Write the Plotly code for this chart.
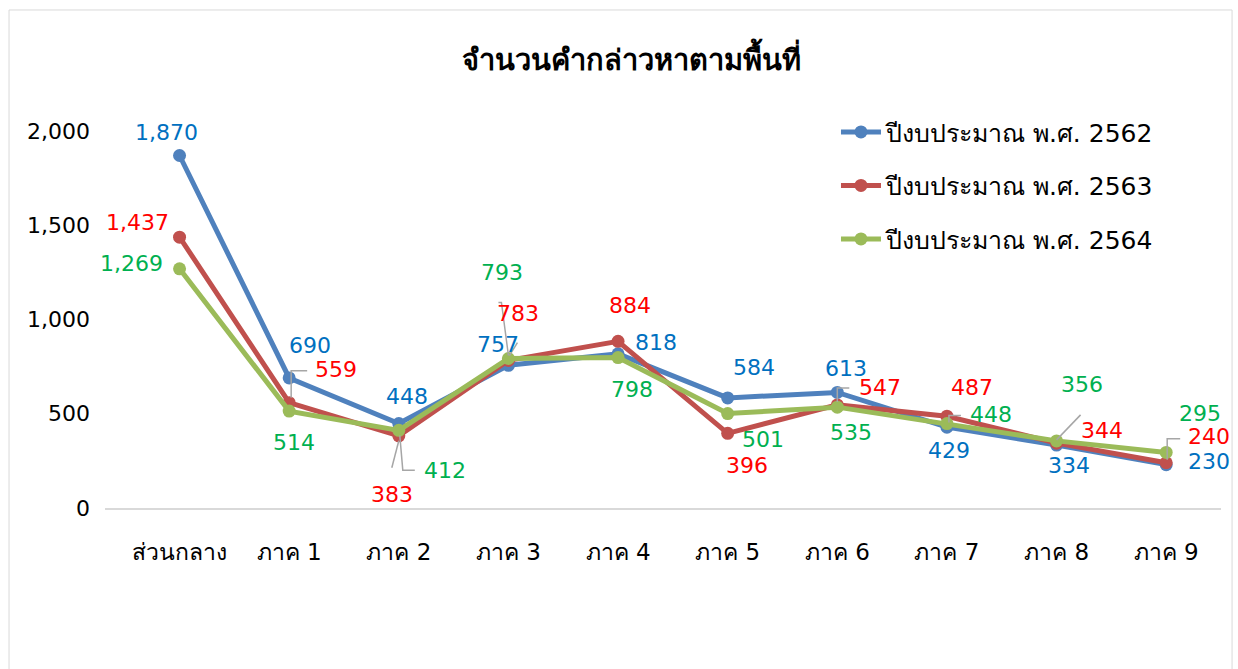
import plotly.graph_objects as go

categories = ["ส่วนกลาง", "ภาค 1", "ภาค 2", "ภาค 3", "ภาค 4", "ภาค 5", "ภาค 6", "ภาค 7", "ภาค 8", "ภาค 9"]
series_names = ["ปีงบประมาณ พ.ศ. 2562", "ปีงบประมาณ พ.ศ. 2563", "ปีงบประมาณ พ.ศ. 2564"]
values_2562 = [1870, 690, 448, 757, 818, 584, 613, 429, 334, 230]
values_2563 = [1437, 559, 383, 783, 884, 396, 547, 487, 344, 240]
values_2564 = [1269, 514, 412, 793, 798, 501, 535, 448, 356, 295]
title_text = "จำนวนคำกล่าวหาตามพื้นที่"
y_ticks = [0, 500, 1000, 1500, 2000]

line_colors = ["#4F81BD", "#C0504D", "#9BBB59"]
label_colors = ["#0070C0", "#FF0000", "#00B050"]
all_values = [values_2562, values_2563, values_2564]

# label offsets in screen pixels (dx, dy) relative to each point
offsets = [
    [(-13, -23), (21, -32), (8, -27), (-10, -21), (38, -11), (26, -30), (9, -24), (2, 23), (12, 20), (43, -3)],
    [(-42, -15), (47, -33), (-7, 59), (10, -47), (12, -36), (19, 32), (43, -17), (25, -29), (45, -13), (43, -26)],
    [(-48, -5), (5, 31), (46, 40), (-6, -86), (14, 32), (35, 26), (14, 25), (44, -9), (25, -56), (34, -39)],
]
# leader lines: (series index, category index, polyline in screen pixel offsets)
leader_lines = [
    (1, 1, [(2, -5), (2, -32), (18, -32)]),
    (1, 2, [(0, 5), (-7, 32)]),
    (2, 2, [(1, 5), (4, 40), (16, 40)]),
    (2, 3, [(-10, -56), (-7, -56), (0, -3)]),
    (2, 3, [(9, -16), (1, -3)]),
    (1, 6, [(0, -3), (0, -17), (12, -17)]),
    (2, 7, [(2, -1), (2, -8), (14, -8)]),
    (2, 8, [(0, -1), (24, -26)]),
    (1, 9, [(1, -3), (1, -24), (14, -24)]),
]

FONT = "Tahoma, 'DejaVu Sans', 'Noto Sans', sans-serif"

fig = go.Figure()
for i, (name, vals) in enumerate(zip(series_names, all_values)):
    fig.add_trace(go.Scatter(
        x=categories, y=vals, name=name, mode="lines+markers",
        line=dict(color=line_colors[i], width=5),
        marker=dict(color=line_colors[i], size=13),
        legendgroup=str(i), cliponaxis=False,
    ))

annotations = []
for i, vals in enumerate(all_values):
    for j, v in enumerate(vals):
        dx, dy = offsets[i][j]
        annotations.append(dict(
            x=categories[j], y=v, xref="x", yref="y",
            text=f"{v:,}", showarrow=True, ax=dx, ay=dy,
            arrowhead=0, arrowwidth=1, arrowcolor="rgba(0,0,0,0)",
            font=dict(family=FONT, size=22, color=label_colors[i]),
        ))

shapes = [dict(type="rect", xref="paper", yref="paper",
               x0=-0.086, x1=1.0099, y0=-0.46, y1=1.321,
               line=dict(color="#D9D9D9", width=1), layer="below")]
for si, cj, pts in leader_lines:
    path = "M " + " L ".join(f"{px},{-py}" for px, py in pts)
    shapes.append(dict(type="path", xref="x", yref="y",
                       xsizemode="pixel", ysizemode="pixel",
                       xanchor=categories[cj], yanchor=all_values[si][cj],
                       path=path, line=dict(color="#A6A6A6", width=1.5), layer="above"))

fig.update_layout(
    width=1238, height=669,
    paper_bgcolor="white", plot_bgcolor="white",
    margin=dict(l=105, r=17, t=131, b=161, autoexpand=False),
    title=dict(text=f"<b>{title_text}</b>", x=0.51, xref="container", xanchor="center",
               y=0.91, yref="container", yanchor="middle",
               font=dict(family=FONT, size=29, color="black")),
    font=dict(family=FONT, size=22, color="black"),
    showlegend=True,
    legend=dict(x=0.655, y=1.058, xanchor="left", yanchor="top",
                bgcolor="rgba(0,0,0,0)", font=dict(family=FONT, size=25, color="black"),
                tracegroupgap=18, traceorder="grouped", itemwidth=40),
    annotations=annotations,
    shapes=shapes,
    xaxis=dict(type="category", range=[-0.68, 9.5], showgrid=False, zeroline=False,
               showline=True, linecolor="#D9D9D9", linewidth=2, ticks="",
               ticklabelstandoff=22, tickfont=dict(family=FONT, size=23, color="black")),
    yaxis=dict(range=[0, 2000], tickvals=y_ticks, tickformat=",", showgrid=False,
               zeroline=False, showline=False, ticks="", ticklabelstandoff=14,
               tickfont=dict(family=FONT, size=22, color="black")),
)

fig.write_html("out.html", config={"displayModeBar": False},
               post_script="document.body.style.margin='0';")
